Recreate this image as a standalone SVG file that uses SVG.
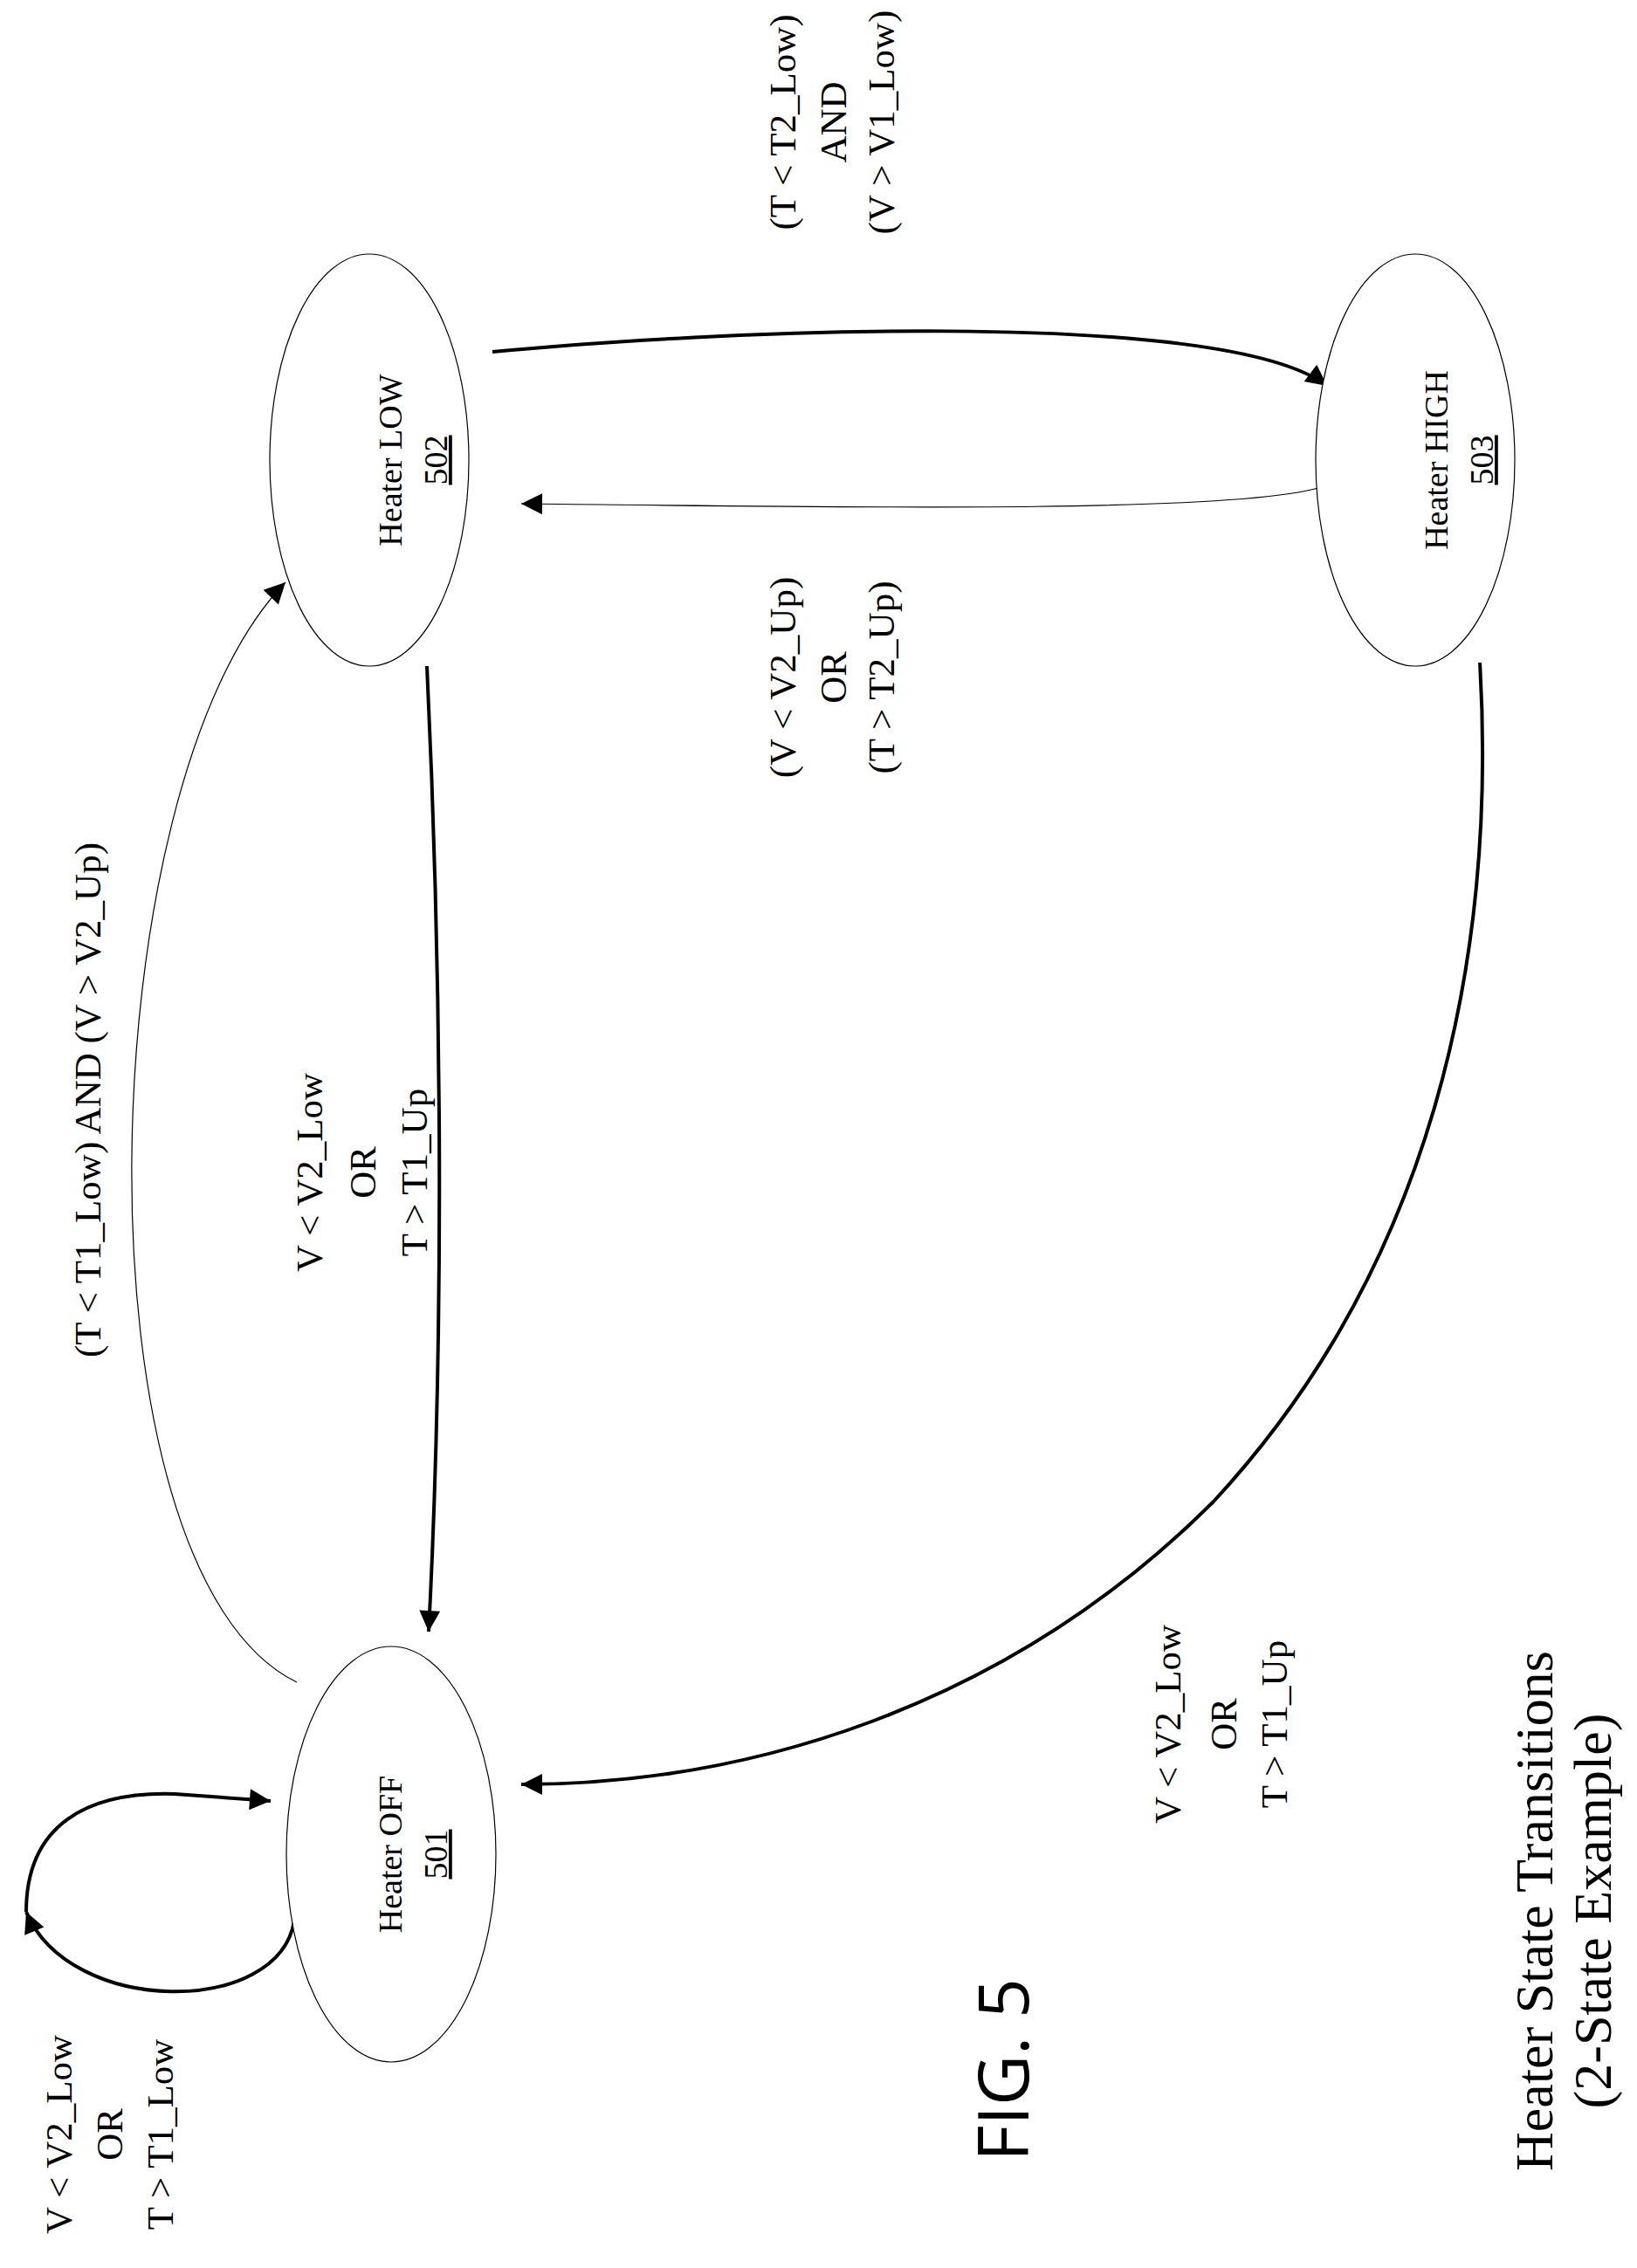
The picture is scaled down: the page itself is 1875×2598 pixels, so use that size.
<svg xmlns="http://www.w3.org/2000/svg" width="1875" height="2598" viewBox="0 0 1875 2598">
<defs>
<style>
text{font-family:"Liberation Serif","Times New Roman",serif;fill:#000;text-anchor:middle}
.n{font-size:38px}
.l{font-size:43px}
.node{fill:#fff;stroke:#000;stroke-width:1.2}
.thick{fill:none;stroke:#000;stroke-width:4}
.thin{fill:none;stroke:#000;stroke-width:1.2}
</style>
<marker id="b" viewBox="0 0 10 10" refX="10" refY="5" markerWidth="30" markerHeight="24" markerUnits="userSpaceOnUse" orient="auto"><path d="M0,0 L10,5 L0,10 z" fill="#000"/></marker>
</defs>
<rect width="1875" height="2598" fill="#fff"/>
<g id="connectors">
<path class="thick" marker-end="url(#b)" d="M564,403 C 800,380 1400,350 1520,442"/>
<path class="thin" marker-end="url(#b)" d="M1510,559 C 1400,590 900,580 597,577"/>
<path class="thick" marker-end="url(#b)" d="M489,763 C 505,1100 510,1500 491,1869"/>
<path class="thin" marker-end="url(#b)" d="M340,1927 C 80,1800 100,900 327,667"/>
<path class="thick" marker-end="url(#b)" d="M1695,759 C 1715,1100 1640,1450 1390,1720 C 1150,1960 850,2044 597,2044"/>
<path class="thick" marker-end="url(#b)" d="M337,2200 C 320,2310 80,2310 30,2190"/>
<path class="thick" marker-end="url(#b)" d="M30,2190 C 30,2090 100,2052 200,2055 L 310,2063"/>
</g>
<g id="n502"><ellipse class="node" cx="423" cy="527" rx="114" ry="236"/>
<text class="n" transform="translate(460,527) rotate(-90)">Heater LOW</text>
<text class="n" text-decoration="underline" transform="translate(512,527) rotate(-90)">502</text></g>
<g id="n503"><ellipse class="node" cx="1621" cy="527" rx="114" ry="236"/>
<text class="n" transform="translate(1658,527) rotate(-90)">Heater HIGH</text>
<text class="n" text-decoration="underline" transform="translate(1710,527) rotate(-90)">503</text></g>
<g id="n501"><ellipse class="node" cx="448" cy="2124" rx="120" ry="238"/>
<text class="n" transform="translate(460,2124) rotate(-90)">Heater OFF</text>
<text class="n" text-decoration="underline" transform="translate(512,2124) rotate(-90)">501</text></g>
<g id="labels">
<g transform="translate(0,140)"><text class="l" transform="translate(911,0) rotate(-90)">(T &lt; T2_Low)</text><text class="l" transform="translate(969,0) rotate(-90)">AND</text><text class="l" transform="translate(1024,0) rotate(-90)">(V &gt; V1_Low)</text></g>
<g transform="translate(0,776)"><text class="l" transform="translate(911,0) rotate(-90)">(V &lt; V2_Up)</text><text class="l" transform="translate(969,0) rotate(-90)">OR</text><text class="l" transform="translate(1024,0) rotate(-90)">(T &gt; T2_Up)</text></g>
<text class="l" transform="translate(115,1260) rotate(-90)">(T &lt; T1_Low) AND (V &gt; V2_Up)</text>
<g transform="translate(0,1343)"><text class="l" transform="translate(369,0) rotate(-90)">V &lt; V2_Low</text><text class="l" transform="translate(430,0) rotate(-90)">OR</text><text class="l" transform="translate(489,0) rotate(-90)">T &gt; T1_Up</text></g>
<g transform="translate(0,1975)"><text class="l" transform="translate(1352,0) rotate(-90)">V &lt; V2_Low</text><text class="l" transform="translate(1416,0) rotate(-90)">OR</text><text class="l" transform="translate(1474,0) rotate(-90)">T &gt; T1_Up</text></g>
<g transform="translate(0,2445)"><text class="l" transform="translate(82,0) rotate(-90)">V &lt; V2_Low</text><text class="l" transform="translate(140,0) rotate(-90)">OR</text><text class="l" transform="translate(198,0) rotate(-90)">T &gt; T1_Low</text></g>
<text transform="translate(1178,2371) rotate(-90)" style="font-family:'Open Sans','Liberation Sans',sans-serif;font-size:80px">FIG. 5</text>
<text transform="translate(1778,2189) rotate(-90)" style="font-size:62px">Heater State Transitions</text>
<text transform="translate(1845,2189) rotate(-90)" style="font-size:62px">(2-State Example)</text>
</g>
</svg>
